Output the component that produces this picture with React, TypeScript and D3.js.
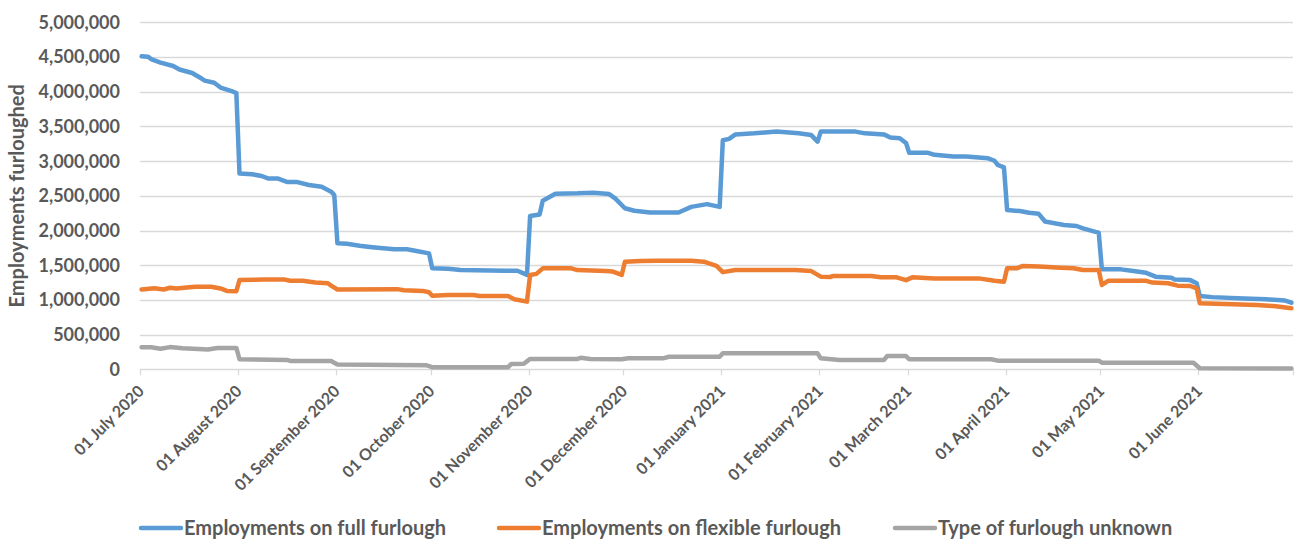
import React from "react";
import * as d3 from "d3";

// Daily furlough counts, listed at the dates where the line changes course.
const fullFurlough: [string, number][] = [
  ["2020-07-01", 4510000], ["2020-07-03", 4505000], ["2020-07-04", 4470000], ["2020-07-07", 4420000],
  ["2020-07-11", 4370000], ["2020-07-13", 4320000], ["2020-07-17", 4270000], ["2020-07-20", 4190000],
  ["2020-07-21", 4160000], ["2020-07-24", 4130000], ["2020-07-26", 4060000], ["2020-07-30", 4000000],
  ["2020-07-31", 3980000], ["2020-08-01", 2820000], ["2020-08-05", 2810000], ["2020-08-08", 2785000],
  ["2020-08-10", 2750000], ["2020-08-13", 2750000], ["2020-08-16", 2700000], ["2020-08-19", 2700000],
  ["2020-08-23", 2655000], ["2020-08-27", 2630000], ["2020-08-30", 2560000], ["2020-08-31", 2510000],
  ["2020-09-01", 1815000], ["2020-09-04", 1810000], ["2020-09-08", 1780000], ["2020-09-12", 1760000],
  ["2020-09-19", 1730000], ["2020-09-23", 1730000], ["2020-09-26", 1705000], ["2020-09-30", 1670000],
  ["2020-10-01", 1455000], ["2020-10-06", 1450000], ["2020-10-10", 1430000], ["2020-10-24", 1420000],
  ["2020-10-28", 1420000], ["2020-10-31", 1360000], ["2020-11-01", 2210000], ["2020-11-04", 2230000],
  ["2020-11-05", 2430000], ["2020-11-09", 2530000], ["2020-11-16", 2535000], ["2020-11-21", 2545000],
  ["2020-11-26", 2525000], ["2020-11-28", 2460000], ["2020-12-01", 2320000], ["2020-12-04", 2285000],
  ["2020-12-09", 2260000], ["2020-12-18", 2260000], ["2020-12-22", 2340000], ["2020-12-27", 2380000],
  ["2020-12-31", 2340000], ["2021-01-01", 3300000], ["2021-01-03", 3320000], ["2021-01-05", 3385000],
  ["2021-01-11", 3400000], ["2021-01-18", 3425000], ["2021-01-25", 3400000], ["2021-01-29", 3375000],
  ["2021-01-31", 3280000], ["2021-02-01", 3425000], ["2021-02-12", 3425000], ["2021-02-15", 3400000],
  ["2021-02-21", 3385000], ["2021-02-23", 3340000], ["2021-02-26", 3330000], ["2021-02-28", 3260000],
  ["2021-03-01", 3120000], ["2021-03-07", 3120000], ["2021-03-09", 3090000], ["2021-03-15", 3065000],
  ["2021-03-19", 3065000], ["2021-03-26", 3040000], ["2021-03-28", 3005000], ["2021-03-29", 2945000],
  ["2021-03-31", 2910000], ["2021-04-01", 2295000], ["2021-04-05", 2280000], ["2021-04-08", 2255000],
  ["2021-04-11", 2240000], ["2021-04-13", 2130000], ["2021-04-19", 2080000], ["2021-04-23", 2065000],
  ["2021-04-25", 2030000], ["2021-04-29", 1980000], ["2021-04-30", 1970000], ["2021-05-01", 1440000],
  ["2021-05-07", 1440000], ["2021-05-11", 1415000], ["2021-05-15", 1390000], ["2021-05-18", 1335000],
  ["2021-05-23", 1320000], ["2021-05-24", 1295000], ["2021-05-29", 1285000], ["2021-05-31", 1240000],
  ["2021-06-01", 1055000], ["2021-06-05", 1040000], ["2021-06-15", 1020000], ["2021-06-22", 1010000],
  ["2021-06-28", 990000], ["2021-06-30", 960000],
];

const flexibleFurlough: [string, number][] = [
  ["2020-07-01", 1150000], ["2020-07-05", 1167000], ["2020-07-08", 1150000], ["2020-07-10", 1175000],
  ["2020-07-12", 1165000], ["2020-07-18", 1190000], ["2020-07-23", 1190000], ["2020-07-26", 1165000],
  ["2020-07-28", 1130000], ["2020-07-31", 1125000], ["2020-08-01", 1285000], ["2020-08-09", 1295000],
  ["2020-08-15", 1295000], ["2020-08-17", 1275000], ["2020-08-21", 1275000], ["2020-08-25", 1250000],
  ["2020-08-29", 1240000], ["2020-08-30", 1205000], ["2020-09-01", 1150000], ["2020-09-20", 1155000],
  ["2020-09-22", 1140000], ["2020-09-28", 1130000], ["2020-09-30", 1110000], ["2020-10-01", 1060000],
  ["2020-10-06", 1070000], ["2020-10-14", 1070000], ["2020-10-16", 1055000], ["2020-10-25", 1055000],
  ["2020-10-27", 1010000], ["2020-10-31", 975000], ["2020-11-01", 1360000], ["2020-11-03", 1375000],
  ["2020-11-05", 1455000], ["2020-11-14", 1455000], ["2020-11-16", 1430000], ["2020-11-25", 1415000],
  ["2020-11-27", 1410000], ["2020-11-30", 1360000], ["2020-12-01", 1550000], ["2020-12-06", 1560000],
  ["2020-12-11", 1565000], ["2020-12-22", 1565000], ["2020-12-26", 1550000], ["2020-12-30", 1490000],
  ["2021-01-01", 1400000], ["2021-01-05", 1430000], ["2021-01-24", 1430000], ["2021-01-29", 1415000],
  ["2021-02-01", 1335000], ["2021-02-04", 1330000], ["2021-02-05", 1345000], ["2021-02-17", 1345000],
  ["2021-02-20", 1325000], ["2021-02-25", 1325000], ["2021-02-28", 1285000], ["2021-03-02", 1325000],
  ["2021-03-09", 1310000], ["2021-03-23", 1310000], ["2021-03-28", 1275000], ["2021-03-31", 1260000],
  ["2021-04-01", 1455000], ["2021-04-04", 1455000], ["2021-04-06", 1490000], ["2021-04-11", 1480000],
  ["2021-04-18", 1465000], ["2021-04-22", 1455000], ["2021-04-25", 1430000], ["2021-04-30", 1430000],
  ["2021-05-01", 1215000], ["2021-05-03", 1275000], ["2021-05-15", 1275000], ["2021-05-17", 1250000],
  ["2021-05-22", 1240000], ["2021-05-25", 1205000], ["2021-05-29", 1200000], ["2021-05-31", 1165000],
  ["2021-06-01", 950000], ["2021-06-19", 925000], ["2021-06-25", 910000], ["2021-06-30", 880000],
];

const unknownFurlough: [string, number][] = [
  ["2020-07-01", 317000], ["2020-07-04", 317000], ["2020-07-07", 295000], ["2020-07-10", 320000],
  ["2020-07-14", 302000], ["2020-07-19", 292000], ["2020-07-22", 285000], ["2020-07-25", 308000],
  ["2020-07-31", 308000], ["2020-08-01", 145000], ["2020-08-16", 135000], ["2020-08-17", 120000],
  ["2020-08-30", 120000], ["2020-09-01", 70000], ["2020-09-29", 60000], ["2020-10-01", 30000],
  ["2020-10-25", 30000], ["2020-10-26", 75000], ["2020-10-30", 80000], ["2020-11-01", 150000],
  ["2020-11-16", 150000], ["2020-11-17", 165000], ["2020-11-20", 148000], ["2020-11-30", 145000],
  ["2020-12-02", 158000], ["2020-12-13", 158000], ["2020-12-15", 180000], ["2020-12-31", 180000],
  ["2021-01-01", 230000], ["2021-01-31", 230000], ["2021-02-01", 158000], ["2021-02-07", 134000],
  ["2021-02-21", 134000], ["2021-02-22", 190000], ["2021-02-28", 190000], ["2021-03-01", 145000],
  ["2021-03-27", 145000], ["2021-03-29", 125000], ["2021-04-30", 125000], ["2021-05-01", 95000],
  ["2021-05-30", 95000], ["2021-06-01", 15000], ["2021-06-30", 12000],
];

const seriesNames = [
  "Employments on full furlough",
  "Employments on flexible furlough",
  "Type of furlough unknown",
];
const seriesColors = ["#5B9BD5", "#ED7D31", "#A5A5A5"];

const yTicks = [0, 500000, 1000000, 1500000, 2000000, 2500000, 3000000, 3500000, 4000000, 4500000, 5000000];
const monthTicks = [
  "2020-07-01", "2020-08-01", "2020-09-01", "2020-10-01", "2020-11-01", "2020-12-01",
  "2021-01-01", "2021-02-01", "2021-03-01", "2021-04-01", "2021-05-01", "2021-06-01", "2021-07-01",
];
const yTitle = "Employments furloughed";

const parse = d3.timeParse("%Y-%m-%d");
const fmtMonth = d3.timeFormat("%d %B %Y");
const fmtNum = d3.format(",");

const FONT = "Lato, 'Open Sans', 'Liberation Sans', sans-serif";
const TEXT = "#595959";
const GRID = "#D9D9D9";

export default function App() {
  const W = 1296;
  const H = 541;
  const plot = { left: 140, right: 1293, top: 22.3, bottom: 369.3 };

  const x = d3
    .scaleTime()
    .domain([parse(monthTicks[0]) as Date, parse(monthTicks[monthTicks.length - 1]) as Date])
    .range([plot.left, plot.right]);
  const y = d3.scaleLinear().domain([0, 5000000]).range([plot.bottom, plot.top]);

  // points sit in the middle of their day slot
  const halfDay = (x(parse("2020-07-02") as Date) - x(parse("2020-07-01") as Date)) / 2;
  const line = d3
    .line<[string, number]>()
    .x((d) => x(parse(d[0]) as Date) + halfDay)
    .y((d) => y(d[1]));

  const series = [fullFurlough, flexibleFurlough, unknownFurlough];

  // legend entries: swatch start and label start
  const legendSwatchX = [141, 499, 895];
  const legendY = 528;

  return (
    <svg
      width={W}
      height={H}
      style={{ position: "absolute", left: 0, top: 0, background: "#fff" }}
      fontFamily={FONT}
    >
      <rect x={0} y={0} width={W} height={H} fill="#fff" />

      {/* horizontal gridlines */}
      {yTicks.map((t) => (
        <line
          key={"g" + t}
          x1={plot.left}
          x2={plot.right}
          y1={Math.round(y(t)) + 0.5}
          y2={Math.round(y(t)) + 0.5}
          stroke={GRID}
          strokeWidth={1.3}
        />
      ))}

      {/* y tick labels */}
      {yTicks.map((t) => (
        <text
          key={"yl" + t}
          x={120}
          y={y(t)}
          dy="0.36em"
          textAnchor="end"
          fontSize={18}
          fontWeight={700}
          fill={TEXT}
        >
          {fmtNum(t)}
        </text>
      ))}

      {/* y axis title */}
      <text
        transform={`translate(24, ${(plot.top + plot.bottom) / 2}) rotate(-90)`}
        textAnchor="middle"
        fontSize={20}
        fontWeight={700}
        fill={TEXT}
      >
        {yTitle}
      </text>

      {/* x axis ticks */}
      {monthTicks.map((m) => {
        const tx = Math.round(x(parse(m) as Date)) + 0.5;
        return (
          <line key={"t" + m} x1={tx} x2={tx} y1={plot.bottom} y2={plot.bottom + 6} stroke={GRID} strokeWidth={1.3} />
        );
      })}

      {/* x tick labels */}
      {monthTicks.slice(0, -1).map((m) => {
        const tx = x(parse(m) as Date);
        return (
          <text
            key={"xl" + m}
            transform={`translate(${tx + 1}, ${plot.bottom + 19}) rotate(-45)`}
            textAnchor="end"
            dy="0.35em"
            fontSize={16}
            fontWeight={700}
            fill={TEXT}
          >
            {fmtMonth(parse(m) as Date)}
          </text>
        );
      })}

      {/* series lines */}
      {series.map((s, i) => (
        <path
          key={"s" + i}
          d={line(s) || ""}
          fill="none"
          stroke={seriesColors[i]}
          strokeWidth={4.5}
          strokeLinejoin="round"
          strokeLinecap="round"
        />
      ))}

      {/* legend */}
      {seriesNames.map((name, i) => (
        <g key={"lg" + i}>
          <line
            x1={legendSwatchX[i]}
            x2={legendSwatchX[i] + 40}
            y1={legendY}
            y2={legendY}
            stroke={seriesColors[i]}
            strokeWidth={4.5}
            strokeLinecap="round"
          />
          <text x={legendSwatchX[i] + 43} y={legendY} dy="0.36em" fontSize={20} fontWeight={700} fill={TEXT}>
            {name}
          </text>
        </g>
      ))}
    </svg>
  );
}
